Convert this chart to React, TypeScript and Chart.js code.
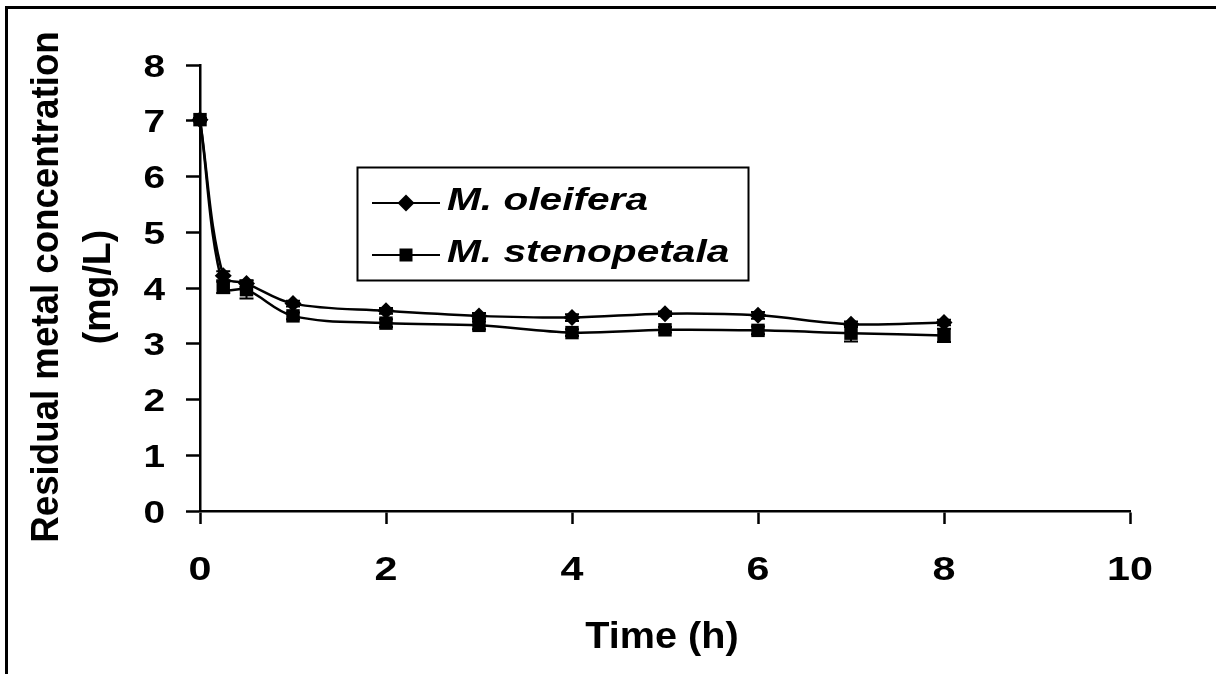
import React, { useEffect, useRef } from 'react';
import { Chart, registerables } from 'chart.js';

Chart.register(...registerables);

// ---- data ----
const times = [0, 0.25, 0.5, 1, 2, 3, 4, 5, 6, 7, 8];
const oleifera = [7.02, 4.22, 4.08, 3.72, 3.59, 3.5, 3.47, 3.54, 3.51, 3.35, 3.38];
const oleiferaErr = [0.03, 0.08, 0.06, 0.05, 0.05, 0.05, 0.06, 0.04, 0.06, 0.05, 0.05];
const stenopetala = [7.02, 4.01, 3.97, 3.5, 3.37, 3.33, 3.2, 3.25, 3.24, 3.19, 3.15];
const stenopetalaErr = [0.03, 0.1, 0.16, 0.06, 0.07, 0.07, 0.06, 0.05, 0.07, 0.15, 0.12];
const seriesNames = ['M. oleifera', 'M. stenopetala'];
const xTicks = [0, 2, 4, 6, 8, 10];
const yTicks = [0, 1, 2, 3, 4, 5, 6, 7, 8];
const xTitle = 'Time (h)';
const yTitleLines = ['Residual metal concentration', '(mg/L)'];

const FONT = '"Liberation Sans", Arial, Helvetica, sans-serif';

function drawText(
  ctx: CanvasRenderingContext2D,
  text: string,
  x: number,
  y: number,
  font: string,
  sx: number,
  align: CanvasTextAlign,
  baseline: CanvasTextBaseline,
  rotation = 0
) {
  ctx.save();
  ctx.translate(x, y);
  if (rotation) ctx.rotate(rotation);
  ctx.scale(sx, 1);
  ctx.font = font;
  ctx.fillStyle = '#000';
  ctx.textAlign = align;
  ctx.textBaseline = baseline;
  ctx.fillText(text, 0, 0);
  ctx.restore();
}

export default function App() {
  const ref = useRef<HTMLCanvasElement>(null);

  useEffect(() => {
    const canvas = ref.current;
    if (!canvas) return;

    const decor = {
      id: 'decor',
      beforeDraw(chart: any) {
        const ctx = chart.ctx as CanvasRenderingContext2D;
        ctx.save();
        ctx.fillStyle = '#fff';
        ctx.fillRect(0, 0, chart.width, chart.height);
        ctx.restore();
      },
      afterDatasetsDraw(chart: any) {
        const ctx = chart.ctx as CanvasRenderingContext2D;
        const xs = chart.scales.x;
        const ys = chart.scales.y;
        const sets = [
          { v: oleifera, e: oleiferaErr },
          { v: stenopetala, e: stenopetalaErr },
        ];
        ctx.save();
        ctx.strokeStyle = '#000';
        ctx.lineWidth = 2;
        sets.forEach((s) => {
          times.forEach((t, i) => {
            const px = xs.getPixelForValue(t);
            const top = ys.getPixelForValue(s.v[i] + s.e[i]);
            const bot = ys.getPixelForValue(s.v[i] - s.e[i]);
            ctx.beginPath();
            ctx.moveTo(px, top);
            ctx.lineTo(px, bot);
            ctx.moveTo(px - 7, top);
            ctx.lineTo(px + 7, top);
            ctx.moveTo(px - 7, bot);
            ctx.lineTo(px + 7, bot);
            ctx.stroke();
          });
        });
        ctx.restore();
      },
      afterDraw(chart: any) {
        const ctx = chart.ctx as CanvasRenderingContext2D;
        const xs = chart.scales.x;
        const ys = chart.scales.y;
        const area = chart.chartArea;

        // tick labels
        yTicks.forEach((v) => {
          const py = ys.getPixelForValue(v);
          drawText(ctx, String(v), area.left - 35, py + 11.5, `bold 31px ${FONT}`, 1.25, 'right', 'alphabetic');
        });
        xTicks.forEach((v) => {
          const px = xs.getPixelForValue(v);
          drawText(ctx, String(v), px, area.bottom + 69, `bold 33px ${FONT}`, 1.25, 'center', 'alphabetic');
        });

        // axis titles
        drawText(ctx, xTitle, (area.left + area.right) / 2 - 3, area.bottom + 137, `bold 36px ${FONT}`, 1.1, 'center', 'alphabetic');
        const cy = 287;
        drawText(ctx, yTitleLines[0], 58, cy, `bold 39px ${FONT}`, 0.94, 'center', 'alphabetic', -Math.PI / 2);
        drawText(ctx, yTitleLines[1], 110, cy, `bold 39px ${FONT}`, 0.96, 'center', 'alphabetic', -Math.PI / 2);

        // legend
        const lx = 357, ly = 167, lw = 391, lh = 113;
        ctx.save();
        ctx.strokeStyle = '#000';
        ctx.lineWidth = 2;
        ctx.strokeRect(lx + 0.5, ly + 0.5, lw, lh);
        const rows = [203, 255];
        rows.forEach((ry, i) => {
          ctx.beginPath();
          ctx.lineWidth = 2;
          ctx.moveTo(372, ry);
          ctx.lineTo(440, ry);
          ctx.stroke();
          ctx.fillStyle = '#000';
          if (i === 0) {
            ctx.beginPath();
            ctx.moveTo(406, ry - 8.5);
            ctx.lineTo(414.5, ry);
            ctx.lineTo(406, ry + 8.5);
            ctx.lineTo(397.5, ry);
            ctx.closePath();
            ctx.fill();
          } else {
            ctx.fillRect(406 - 6.5, ry - 6.5, 13, 13);
          }
          drawText(ctx, seriesNames[i], 447, ry + 7, `italic bold 32px ${FONT}`, 1.27, 'left', 'alphabetic');
        });
        ctx.restore();

        // outer frame (cropped by the image edges)
        ctx.save();
        ctx.strokeStyle = '#000';
        ctx.lineWidth = 3;
        ctx.strokeRect(6.5, 7.5, chart.width + 20, chart.height + 20);
        ctx.restore();
      },
    };

    const chart = new Chart(canvas, {
      type: 'line',
      data: {
        datasets: [
          {
            label: seriesNames[0],
            data: times.map((t, i) => ({ x: t, y: oleifera[i] })),
            borderColor: '#000',
            backgroundColor: '#000',
            borderWidth: 2.5,
            pointStyle: 'rectRot',
            pointRadius: 8.5,
            pointBorderWidth: 0,
            tension: 0.35,
            clip: false,
            order: 1,
          },
          {
            label: seriesNames[1],
            data: times.map((t, i) => ({ x: t, y: stenopetala[i] })),
            borderColor: '#000',
            backgroundColor: '#000',
            borderWidth: 2.5,
            pointStyle: 'rect',
            pointRadius: 9.5,
            pointBorderWidth: 0,
            tension: 0.35,
            clip: false,
            order: 0,
          },
        ],
      },
      options: {
        responsive: false,
        animation: false,
        events: [],
        layout: { padding: { left: 186, top: 65, right: 86, bottom: 150 } },
        plugins: { legend: { display: false }, tooltip: { enabled: false }, title: { display: false } },
        scales: {
          x: {
            type: 'linear',
            min: 0,
            max: 10,
            ticks: { stepSize: 2, display: false },
            grid: { drawOnChartArea: false, drawTicks: true, tickLength: 13, tickWidth: 2.5, tickColor: '#000' },
            border: { display: true, color: '#000', width: 2.5 },
          },
          y: {
            type: 'linear',
            min: 0,
            max: 8,
            ticks: { stepSize: 1, display: false },
            grid: { drawOnChartArea: false, drawTicks: true, tickLength: 14, tickWidth: 2.5, tickColor: '#000' },
            border: { display: true, color: '#000', width: 2.5 },
          },
        },
      },
      plugins: [decor],
    } as any);

    return () => chart.destroy();
  }, []);

  return (
    <div style={{ position: 'absolute', left: 0, top: 0, width: 1216, height: 674 }}>
      <canvas ref={ref} width={1216} height={674} style={{ display: 'block' }} />
    </div>
  );
}
